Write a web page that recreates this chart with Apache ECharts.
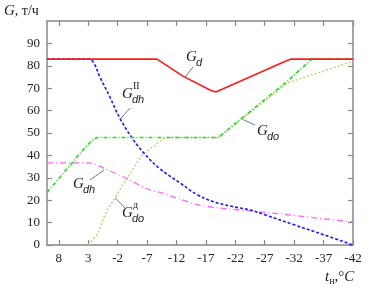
<!DOCTYPE html>
<html>
<head>
<meta charset="utf-8">
<script src="https://cdn.jsdelivr.net/npm/echarts@6/dist/echarts.min.js"></script>
<style>
html,body{margin:0;padding:0;background:#fff;}
#main{width:382px;height:296px;}
</style>
</head>
<body>
<div id="main"></div>
<script>
// tick labels
var ticksT = [8, 3, -2, -7, -12, -17, -22, -27, -32, -37, -42];
var ticksG = [0, 10, 20, 30, 40, 50, 60, 70, 80, 90];

// G_d (red)
var gdT = [10, -8.7, -13.1, -17.7, -18.7, -30.6, -31.5, -42];
var gdV = [83, 83, 75.4, 69.2, 68.3, 82.1, 83, 83];
// G_dh^II (blue)
var gdh2T = [10, 2.8, 2.1, 1.0, -0.7, -2.3, -4.4, -6.65, -9.2, -12.6, -15.5, -18.2, -21.1, -24.5, -27, -32, -37, -42];
var gdh2V = [83, 83, 81.5, 75, 66, 57, 48, 40.5, 34, 27.7, 22.5, 19.4, 17.4, 15.6, 13.5, 9, 4.6, 0];
// G_do (green)
var gdoT = [10, 3.2, 2.2, 1.5, -19.1, -31, -35.0, -42];
var gdoV = [23.5, 44.5, 47, 48, 48, 73.5, 83, 83];
// G_dh (magenta)
var gdhT = [10, 3.0, 2.0, 0.1, -4.1, -6.65, -9.2, -12.6, -15.5, -19.4, -24.5, -30.1, -35.9, -42];
var gdhV = [36.7, 36.7, 36.2, 34, 29, 25.4, 23.5, 20.5, 18, 16.5, 15.2, 13.8, 12, 10.3];
// G_do^д (olive)
var gdodT = [3.0, 1.5, -0.2, -1.55, -2.9, -6.1, -9.5, -10.5, -19.1, -31, -42];
var gdodV = [0, 4.5, 15.6, 21, 27, 40, 47, 48, 48, 72.5, 82];

function pairs(t, v) {
	return t.map(function (x, i) { return [x, v[i]]; });
}

var axisColor = '#888';
var serif = 'Liberation Serif';

function xAx(pos, showLabel) {
	return {
		type: 'value', position: pos, inverse: true, min: -42, max: 10,
		axisLine: { show: true, onZero: false, lineStyle: { color: axisColor, width: 1.5 } },
		axisTick: { show: true, inside: true, length: 5, customValues: ticksT, lineStyle: { color: axisColor, width: 1.2 } },
		axisLabel: { show: showLabel, customValues: ticksT, fontFamily: serif, fontSize: 13, color: '#222', margin: 7 },
		splitLine: { show: false }
	};
}
function yAx(pos, showLabel) {
	return {
		type: 'value', position: pos, min: 0, max: 100,
		axisLine: { show: true, onZero: false, lineStyle: { color: axisColor, width: 1.5 } },
		axisTick: { show: true, inside: true, length: 5, customValues: ticksG, lineStyle: { color: axisColor, width: 1.2 } },
		axisLabel: { show: showLabel, customValues: ticksG, fontFamily: serif, fontSize: 13, color: '#222', margin: 7 },
		splitLine: { show: false }
	};
}
function line(data, color, width, type, smooth) {
	return {
		type: 'line', data: data, showSymbol: false, symbol: 'none', smooth: smooth,
		xAxisIndex: 0, yAxisIndex: 0,
		lineStyle: { color: color, width: width, type: type }
	};
}

var myChart = echarts.init(document.getElementById('main'));
myChart.setOption({
	animation: false,
	grid: { left: 47, right: 29, top: 21, bottom: 51 },
	xAxis: [xAx('bottom', true), xAx('top', false)],
	yAxis: [yAx('left', true), yAx('right', false)],
	series: [
		line(pairs(gdodT, gdodV), '#c4c86a', 1.3, [2, 2], false),
		line(pairs(gdhT, gdhV), '#ff66ff', 1.3, [6, 3, 1, 3], 0.3),
		line(pairs(gdh2T, gdh2V), '#1a1aff', 1.6, [3, 2], 0.4),
		line(pairs(gdoT, gdoV), '#22dd22', 1.6, [4, 2, 1, 2], false),
		line(pairs(gdT, gdV), '#ff1a1a', 1.6, 'solid', false)
	]
});

// annotations: label position (px) and the curve point (data) that the leader touches
function px(t, v) { return myChart.convertToPixel({ xAxisIndex: 0, yAxisIndex: 0 }, [t, v]); }
var els = [];
function note(x, y, sub, sup, lx, ly, pt) {
	els.push({ type: 'text', left: x, top: y, style: { text: 'G', font: 'italic 15px "Liberation Serif"', fill: '#222' } });
	els.push({ type: 'text', left: x + 10, top: y + 7, style: { text: sub, font: 'italic 11px "Liberation Sans"', fill: '#222' } });
	if (sup) els.push({ type: 'text', left: x + 11, top: y - 6, style: { text: sup, font: '10px "Liberation Serif"', fill: '#222' } });
	var p = px(pt[0], pt[1]);
	els.push({ type: 'line', shape: { x1: lx, y1: ly, x2: p[0], y2: p[1] }, style: { stroke: '#555', lineWidth: 0.8 } });
}
note(186, 50, 'd', null, 193, 67, [-13.5, 75]);
note(122, 87, 'dh', 'II', 130, 108, [-2.4, 56]);
note(257, 124, 'do', null, 255, 125, [-23.3, 56]);
note(73, 177, 'dh', null, 90, 180, [0.3, 33.5]);
note(122, 206, 'do', 'д', 125, 208, [-1.6, 21]);

els.push({ type: 'text', left: 4, top: 4, style: { rich: {
	g: { font: 'italic 15px "Liberation Serif"', fill: '#222' },
	r: { font: '14px "Liberation Serif"', fill: '#222' }
}, text: '{g|G}{r|, т/ч}' } });
els.push({ type: 'text', left: 325, top: 270, style: { rich: {
	t: { font: 'italic 15px "Liberation Serif"', fill: '#222' },
	s: { font: '10px "Liberation Serif"', fill: '#222', padding: [8, 0, 0, 0] },
	r: { font: '15px "Liberation Serif"', fill: '#222' },
	c: { font: 'italic 15px "Liberation Serif"', fill: '#222' }
}, text: '{t|t}{s|н}{r|,°}{c|C}' } });

myChart.setOption({ graphic: els });
</script>
</body>
</html>
